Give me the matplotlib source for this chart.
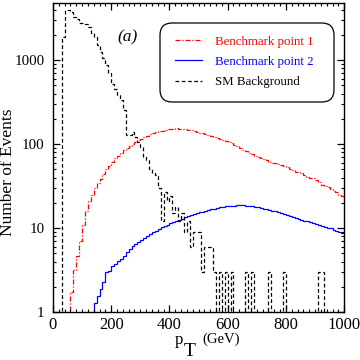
import numpy as np
from matplotlib import pyplot as plt
from matplotlib.patches import FancyBboxPatch
from matplotlib.ticker import FixedLocator, MultipleLocator, LogLocator, NullFormatter

plt.rcParams['font.family'] = ['Liberation Serif', 'DejaVu Serif']

# 10 GeV bins from 0 to 1000
edges = np.arange(0, 1001, 10)

# Benchmark point 1 (red)
bp1 = [0, 0, 0, 0, 0, 0, 1.75, 3.2, 4.6, 7.0,
       10.9, 16, 21, 25, 30, 34, 38, 44, 50, 55,
       62, 68, 73, 78, 84, 90, 96, 101, 106, 111,
       116, 121, 126, 132, 136, 139, 142, 145, 148, 150,
       152, 153, 154, 153, 152, 150, 148, 146, 143, 140,
       137, 134, 131, 128, 124, 121, 118, 115, 111, 108,
       105, 102, 98, 94, 90, 86, 82, 79, 76, 73,
       71, 69, 67, 64, 62, 60, 59, 58, 57, 55,
       53, 51, 49, 47, 46, 45, 43, 41, 40, 39,
       37, 35, 33, 32, 31, 29, 28, 27, 25, 24]

# Benchmark point 2 (blue)
bp2 = [0, 0, 0, 0, 0, 0, 0, 0, 0, 0,
       0, 0, 0, 0, 1.3, 1.55, 1.9, 2.3, 3.0, 3.1,
       3.5, 3.7, 4.1, 4.3, 4.7, 5.2, 5.6, 6.1, 6.4, 6.8,
       7.3, 7.7, 8.1, 8.5, 8.9, 9.3, 9.8, 10.2, 10.6, 11.0,
       11.4, 11.8, 12.2, 12.6, 13.0, 13.4, 13.8, 14.2, 14.6, 15.0,
       15.4, 15.7, 16.0, 16.4, 16.7, 17.0, 17.3, 17.6, 17.9, 18.1,
       18.3, 18.4, 18.5, 18.6, 18.6, 18.6, 18.5, 18.4, 18.2, 18.0,
       17.7, 17.4, 17.1, 16.8, 16.5, 16.2, 15.8, 15.4, 15.0, 14.7,
       14.3, 14.0, 13.6, 13.2, 12.9, 12.6, 12.3, 12.0, 11.7, 11.5,
       11.2, 10.9, 10.6, 10.3, 10.1, 9.9, 9.6, 9.3, 9.0, 8.8]

# SM background (black)
sm_bkg = [0, 0, 0, 1900, 4000, 3950, 3700, 3300, 3100, 2750,
          2800, 2700, 2450, 2100, 1900, 1500, 1250, 1050, 870, 700,
          520, 450, 385, 335, 255, 128, 130, 140, 120, 105,
          93, 70, 64, 50, 45, 43, 30, 12, 27, 21,
          24, 15, 18, 12, 15, 9, 12, 6, 9, 9,
          9, 3, 6, 6, 6, 3, 0, 3, 0, 3,
          0, 3, 0, 0, 0, 0, 3, 0, 3, 0,
          0, 0, 0, 0, 3, 0, 0, 0, 0, 3,
          0, 0, 0, 0, 0, 0, 0, 0, 0, 0,
          0, 3, 3, 0, 0, 0, 0, 0, 0, 0]

fig = plt.figure(figsize=(3.6, 3.6), dpi=100)
ax = fig.add_axes([0.147, 0.133, 0.809, 0.859])

ax.stairs(bp1, edges, baseline=None, color='#ff0000', lw=0.9,
          linestyle=(0, (4, 1.5, 1, 1.5)), label='Benchmark point 1')
ax.stairs(bp2, edges, baseline=None, color='#0000ff', lw=0.9,
          label='Benchmark point 2')
ax.stairs(sm_bkg, edges, baseline=None, color='black', lw=0.9,
          linestyle=(0, (3, 2)), label='SM Background')

ax.set_yscale('log')
ax.set_xlim(0, 1000)
ax.set_ylim(1, 4800)

ax.xaxis.set_major_locator(MultipleLocator(200))
ax.xaxis.set_minor_locator(MultipleLocator(20))
ax.yaxis.set_major_locator(FixedLocator([1, 10, 100, 1000]))
ax.yaxis.set_minor_locator(LogLocator(base=10, subs=np.arange(2, 10)))
ax.yaxis.set_minor_formatter(NullFormatter())
ax.set_yticklabels(['1', '10', '100', '1000'])
ax.tick_params(which='both', direction='in', top=True, right=True)
ax.tick_params(axis='y', labelsize=10.8, pad=6)
ax.tick_params(axis='x', labelsize=12, pad=3.3)
ax.tick_params(which='major', length=4.8, width=0.9)
ax.tick_params(which='minor', length=2.5, width=0.8)
for s in ax.spines.values():
    s.set_linewidth(1.0)

ax.set_ylabel('Number of Events', fontsize=12.5)
ax.yaxis.set_label_coords(-0.127, 0.453)

# x label: p, subscript T, (GeV)
fig.text(175 / 360, 1 - 344 / 360, 'p', fontsize=12, ha='left', va='baseline')
fig.text(184 / 360, 1 - 356 / 360, 'T', fontsize=14, ha='left', va='baseline')
fig.text(202 / 360, 1 - 343 / 360, '(GeV)', fontsize=10.5, ha='left', va='baseline')

ax.text(0.22, 0.874, '(a)', transform=ax.transAxes, fontsize=12.5,
        style='italic')

# legend box with rounded corners
box = FancyBboxPatch((160 / 360, 1 - 102 / 360), 174 / 360, 79 / 360,
                     boxstyle='round,pad=0,rounding_size=0.034',
                     transform=fig.transFigure, facecolor='white',
                     edgecolor='black', lw=0.9, zorder=4, clip_on=False)
ax.add_artist(box)

leg = ax.legend(loc='upper left', bbox_to_anchor=(0.419, 0.8946),
                fontsize=9.3, labelcolor='linecolor', frameon=False,
                handlelength=2.1, handletextpad=1.0, borderpad=0,
                labelspacing=0.65, borderaxespad=0)
leg.set_zorder(5)

fig.savefig('out.png', dpi=100)
